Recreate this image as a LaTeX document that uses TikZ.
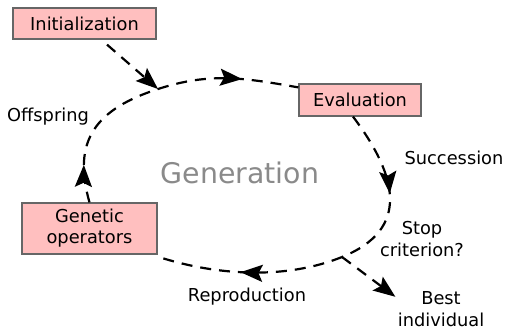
\documentclass[tikz,border=0pt]{standalone}
\usepackage{fontspec}
\setmainfont{DejaVu Sans}
\usepackage{xcolor}
\usepackage{tikz}
\usetikzlibrary{arrows.meta,decorations.markings}
\definecolor{stagepink}{RGB}{255,191,191}
\definecolor{stageedge}{RGB}{102,102,102}
\definecolor{gengray}{RGB}{138,138,138}

\begin{document}
\begin{tikzpicture}[x=0.5pt,y=0.5pt,
  stage/.style={draw=stageedge,fill=stagepink,line width=0.6pt,inner sep=0pt,align=center,font=\fontsize{8.9}{10.5}\selectfont},
  lbl/.style={align=center,inner sep=1pt,font=\fontsize{8.9}{10.8}\selectfont},
  flow/.style={line width=1.1pt,dash pattern=on 5.5pt off 4pt},
  flowtip/.style={-{Stealth[length=11pt,width=8.5pt,inset=2pt]}},
  midtip/.style={postaction={decorate},decoration={markings,mark=at position #1 with {\arrow{Stealth[length=11pt,width=8.5pt,inset=2pt]}}}}]
\useasboundingbox (0,0) rectangle (505,-329);
\node[stage,minimum width=71.5pt,minimum height=15.5pt] (init) at (84.5,-23.5) {Initialization};
\node[stage,minimum width=61pt,minimum height=16pt] (eval) at (360,-100) {Evaluation};
\node[stage,minimum width=67.5pt,minimum height=25.5pt] (gen) at (89.5,-228.5) {Genetic\\operators};
\node[lbl] (offspring) at (48,-117) {Offspring};
\node[lbl] (succ) at (454,-158) {Succession};
\node[lbl] (stop) at (422,-239) {Stop\\criterion?};
\node[lbl] (repro) at (247,-297) {Reproduction};
\node[lbl] (best) at (441,-309) {Best\\individual};
\node[font=\fontsize{14.2}{17}\selectfont,text=gengray] (generation) at (240,-173) {Generation};
\coordinate (join) at (158,-89);
\coordinate (split) at (342,-257);
\draw[flow,flowtip] ([xshift=11.25pt,yshift=-2.5pt]init.south) -- (join);
\draw[flow,midtip=0.6] (join) to[out=18,in=170] ([yshift=-2pt]eval.north west);
\draw[flow,midtip=0.5] ([xshift=-3.5pt]eval.south) to[out=-53,in=22,looseness=1.35] (split);
\draw[flow,midtip=0.55] (split) to[out=202,in=-18,looseness=0.85] ([yshift=-1pt]gen.south east);
\draw[flow,midtip=0.25] (gen.north) to[out=106,in=198,looseness=1.25] (join);
\draw[flow,flowtip] (split) -- (best.165);
\end{tikzpicture}
\end{document}
